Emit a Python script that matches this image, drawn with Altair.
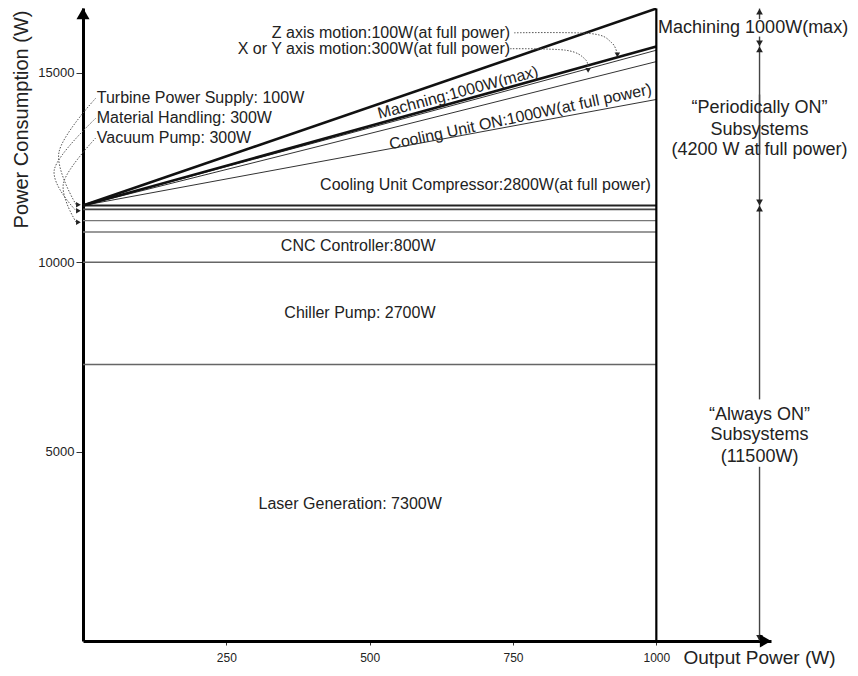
import altair as alt
import pandas as pd

FONT = "Liberation Sans, Arial, sans-serif"

# ---- data ----
always_names = ["Laser Generation", "Chiller Pump", "CNC Controller", "Vacuum Pump",
                "Material Handling", "Turbine Power Supply"]
always_watts = [7300, 2700, 800, 300, 300, 100]
always_colors = ["#666666", "#666666", "#777777", "#777777", "#444444", "#222222"]
always_widths = [1.5, 1.5, 1.3, 1.3, 1.8, 2.2]

periodic_names = ["Cooling Unit Compressor", "Cooling Unit ON", "X or Y axis motion",
                  "Z axis motion", "Machining"]
periodic_watts = [2800, 1000, 300, 100, 1000]
periodic_colors = ["#333333", "#333333", "#333333", "#111111", "#111111"]
periodic_widths = [1.0, 1.0, 1.0, 2.6, 2.6]

output_max = 1000
x_domain = [0, 1200]
y_domain = [0, 16715]
x_ticks = [250, 500, 750, 1000]
y_ticks = [5000, 10000, 15000]

# ---- derived tables ----
base_total = sum(always_watts)
cum_always = pd.Series(always_watts).cumsum().tolist()
hl = pd.DataFrame({"name": always_names, "y": cum_always, "x0": 0, "x1": output_max,
                   "c": always_colors, "w": always_widths})

cum_periodic = (base_total + pd.Series(periodic_watts).cumsum()).tolist()
fan_rows = []
for n, top, c, w in zip(periodic_names, cum_periodic, periodic_colors, periodic_widths):
    fan_rows.append({"s": n, "x": 0, "y": base_total, "c": c, "w": w})
    fan_rows.append({"s": n, "x": output_max, "y": top, "c": c, "w": w})
fan = pd.DataFrame(fan_rows)
full_top = cum_periodic[-1]
periodic_top = cum_periodic[-2]

xs = alt.Scale(domain=x_domain, nice=False, zero=False)
ys = alt.Scale(domain=y_domain, nice=False, zero=False)

base_layer = alt.Chart(hl).mark_rule().encode(
    x=alt.X("x0:Q", scale=xs,
            axis=alt.Axis(values=x_ticks, format="d", grid=False, domainWidth=3, domainColor="#000",
                          tickColor="#333", tickSize=4, labelFontSize=12, labelFont=FONT,
                          labelColor="#222", labelPadding=7,
                          title="Output Power (W)", titleFont=FONT, titleFontSize=19,
                          titleFontWeight="normal", titleColor="#222", titleAnchor="start",
                          titleAlign="left", titleBaseline="alphabetic", titleX=600, titleY=22)),
    x2="x1:Q",
    y=alt.Y("y:Q", scale=ys,
            axis=alt.Axis(values=y_ticks, format="d", grid=False, domainWidth=3,
                          domainColor="#000", tickColor="#333", tickSize=7, labelFontSize=13,
                          labelFont=FONT, labelColor="#222",
                          title="Power Consumption (W)", titleFont=FONT, titleFontSize=20,
                          titleFontWeight="normal", titleColor="#222", titleAngle=270,
                          titleAlign="center", titleBaseline="middle", titleX=-62, titleY=111)),
    color=alt.Color("c:N", scale=None),
    strokeWidth=alt.StrokeWidth("w:Q", scale=None),
)

fan_layer = alt.Chart(fan).mark_line().encode(
    x=alt.X("x:Q", scale=xs), y=alt.Y("y:Q", scale=ys), detail="s:N",
    color=alt.Color("c:N", scale=None), strokeWidth=alt.StrokeWidth("w:Q", scale=None),
)

vline = alt.Chart(pd.DataFrame({"x": [output_max], "y0": [0], "y1": [full_top]})).mark_rule(
    color="#000", strokeWidth=2.2).encode(x=alt.X("x:Q", scale=xs), y=alt.Y("y0:Q", scale=ys), y2="y1:Q")

# dimension line on the right (segments with gaps for labels)
dim_x = 1180
dim_y0 = [0, 6380, base_total, 12850, periodic_top, 16420]
dim_y1 = [4600, base_total, 14430, periodic_top, 15960, full_top]
dim = alt.Chart(pd.DataFrame({"x": dim_x, "y0": dim_y0, "y1": dim_y1})).mark_rule(
    color="#444", strokeWidth=1.4).encode(x=alt.X("x:Q", scale=xs), y=alt.Y("y0:Q", scale=ys), y2="y1:Q")

up_arrows = alt.Chart(pd.DataFrame({"x": dim_x, "y": [full_top, periodic_top, base_total]})).mark_point(
    shape="triangle-up", filled=True, size=45, color="#222", opacity=1, yOffset=3).encode(
    x=alt.X("x:Q", scale=xs), y=alt.Y("y:Q", scale=ys))
down_arrows = alt.Chart(pd.DataFrame({"x": dim_x, "y": [periodic_top, base_total, 0]})).mark_point(
    shape="triangle-down", filled=True, size=45, color="#222", opacity=1, yOffset=-3).encode(
    x=alt.X("x:Q", scale=xs), y=alt.Y("y:Q", scale=ys))

# axis arrow heads
yarrow = alt.Chart(pd.DataFrame({"x": [0], "y": [y_domain[1]]})).mark_point(
    shape="triangle-up", filled=True, size=170, color="#000", opacity=1, yOffset=5.5).encode(
    x=alt.X("x:Q", scale=xs), y=alt.Y("y:Q", scale=ys))
xarrow = alt.Chart(pd.DataFrame({"x": [x_domain[1]], "y": [0]})).mark_point(
    shape="triangle-right", filled=True, size=170, color="#000", opacity=1, xOffset=-5.5).encode(
    x=alt.X("x:Q", scale=xs), y=alt.Y("y:Q", scale=ys))

# dotted leader lines (control points)
lead_id = ["t"] * 3 + ["m"] * 3 + ["v"] * 3 + ["z"] * 4 + ["xy"] * 4
lead_ord = [0, 1, 2, 0, 1, 2, 0, 1, 2, 0, 1, 2, 3, 0, 1, 2, 3]
lead_x = [22, -42, -12, 22, -50, -12, 22, -34, -12, 752, 885, 922, 932, 745, 842, 876, 881]
lead_y = [14330, 12900, 11520, 13800, 12450, 11360, 13280, 12100, 11060,
          16060, 16040, 15800, 15480, 15640, 15600, 15360, 15070]
leads = alt.Chart(pd.DataFrame({"id": lead_id, "o": lead_ord, "x": lead_x, "y": lead_y})).mark_line(
    interpolate="cardinal", strokeDash=[1.5, 1.5], color="#555", strokeWidth=1).encode(
    x=alt.X("x:Q", scale=xs), y=alt.Y("y:Q", scale=ys), detail="id:N", order="o:Q")
lead_right = alt.Chart(pd.DataFrame({"x": [-8, -8, -8], "y": [11520, 11360, 11060]})).mark_point(
    shape="triangle-right", filled=True, size=30, color="#222", opacity=1).encode(
    x=alt.X("x:Q", scale=xs), y=alt.Y("y:Q", scale=ys))
lead_down = alt.Chart(pd.DataFrame({"x": [932, 881], "y": [15480, 15070]})).mark_point(
    shape="triangle-down", filled=True, size=30, color="#222", opacity=1).encode(
    x=alt.X("x:Q", scale=xs), y=alt.Y("y:Q", scale=ys))

# text labels
c_text = ["Laser Generation: 7300W", "Chiller Pump: 2700W", "CNC Controller:800W",
          "Cooling Unit Compressor:2800W(at full power)", "Machning:1000W(max)",
          "Cooling Unit ON:1000W(at full power)"]
c_x = [466, 483, 480, 702, 654, 763]
c_y = [3630, 8660, 10420, 12050, 14480, 13840]
c_a = [0, 0, 0, 0, 345, 348]
l_text = ["Turbine Power Supply: 100W", "Material Handling: 300W", "Vacuum Pump: 300W"]
l_x = [24, 24, 24]
l_y = [14340, 13816, 13290]
r_text = ["Z axis motion:100W(at full power)", "X or Y axis motion:300W(at full power)"]
r_x = [745, 745]
r_y = [16050, 15630]
side_text = ["“Periodically ON”", "Subsystems", "(4200 W at full power)",
             "“Always ON”", "Subsystems", "(11500W)"]
side_y = [14080, 13500, 12970, 5970, 5450, 4870]
mach_text = ["Machining 1000W(max)"]
mach_x = [1003]
mach_y = [16180]


def text_layer(texts, x, y, align, size, angle=None):
    df = pd.DataFrame({"t": texts, "x": x, "y": y, "a": angle if angle is not None else [0] * len(texts)})
    return alt.Chart(df).mark_text(align=align, baseline="middle", font=FONT, fontSize=size,
                                   color="#222").encode(
        x=alt.X("x:Q", scale=xs), y=alt.Y("y:Q", scale=ys), text="t:N",
        angle=alt.Angle("a:Q", scale=None))


texts = [
    text_layer(c_text, c_x, c_y, "center", 16, c_a),
    text_layer(l_text, l_x, l_y, "left", 16),
    text_layer(r_text, r_x, r_y, "right", 16),
    text_layer(side_text, [dim_x] * len(side_text), side_y, "center", 18),
    text_layer(mach_text, mach_x, mach_y, "left", 18),
]

chart = alt.layer(base_layer, fan_layer, vline, dim, up_arrows, down_arrows, leads, lead_right,
                  lead_down, yarrow, xarrow, *texts).properties(
    width=688, height=633,
    autosize=alt.AutoSizeParams(type="none"),
    padding={"left": 75, "top": 0, "right": 79, "bottom": 27},
    background="white",
).configure_view(stroke=None)

chart.save("out.html", embed_options={"renderer": "svg", "actions": False})
